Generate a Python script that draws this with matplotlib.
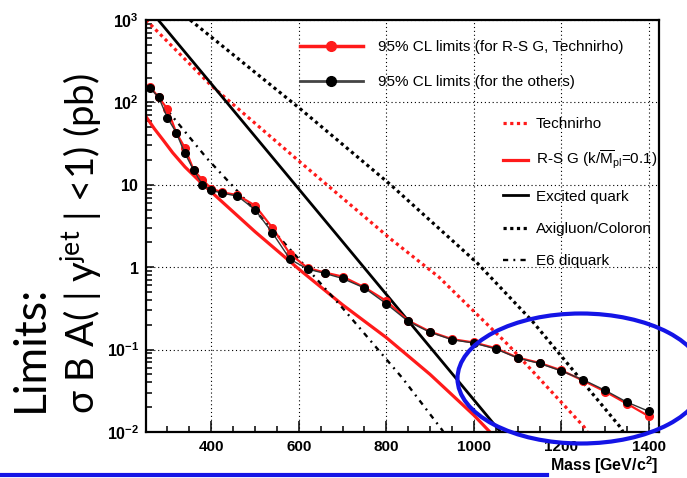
import matplotlib
matplotlib.use('Agg')
import matplotlib.pyplot as plt
import matplotlib.patches as mpatches
from matplotlib.lines import Line2D
from matplotlib.ticker import MultipleLocator, LogLocator, NullFormatter

# ── DATA ──────────────────────────────────────────────────
mass_limits = [260, 280, 300, 320, 340, 360, 380, 400, 425, 460, 500, 540, 580,
               620, 660, 700, 750, 800, 850, 900, 950, 1000, 1050, 1100, 1150,
               1200, 1250, 1300, 1350, 1400]
limit_rsg = [155, 115, 83, 43, 28, 15, 11.5, 9.0, 8.1, 7.5, 5.6, 3.0, 1.45,
             0.98, 0.86, 0.77, 0.57, 0.39, 0.225, 0.165, 0.134, 0.122, 0.104,
             0.080, 0.069, 0.056, 0.042, 0.031, 0.022, 0.0155]
limit_others = [150, 115, 65, 43, 24, 15, 10, 8.6, 7.9, 7.3, 5.0, 2.6, 1.25,
                0.95, 0.84, 0.73, 0.56, 0.36, 0.22, 0.162, 0.132, 0.120, 0.102,
                0.079, 0.068, 0.055, 0.043, 0.032, 0.023, 0.0178]

technirho_mass = [251, 400, 600, 810, 920, 1080, 1252, 1270]
technirho_xs = [1000, 160, 19.5, 2.2, 0.76, 0.112, 0.0115, 0.008]
rsg_mass = [252, 270, 290, 312, 340, 370, 400, 500, 600, 700, 800, 900, 1000, 1045]
rsg_xs = [66, 48, 35, 24.5, 16.5, 11.5, 8.2, 2.7, 0.95, 0.35, 0.14, 0.05, 0.016, 0.009]
qstar_mass = [279, 695, 1061, 1075]
qstar_xs = [1000, 2.2, 0.01, 0.008]
axi_mass = [352, 604, 810, 1008, 1134, 1336, 1350]
axi_xs = [1000, 83, 10, 1.12, 0.22, 0.0112, 0.008]
diq_mass = [300, 390, 457, 588, 700, 837, 928, 940]
diq_xs = [80, 21, 8.7, 1.48, 0.32, 0.045, 0.0105, 0.008]

x_ticks = [400, 600, 800, 1000, 1200, 1400]
y_ticks = [1e-2, 1e-1, 1, 10, 1e2, 1e3]
y_ticklabels = [r'$\mathbf{10^{-2}}$', r'$\mathbf{10^{-1}}$', r'$\mathbf{1}$',
                r'$\mathbf{10}$', r'$\mathbf{10^{2}}$', r'$\mathbf{10^{3}}$']

# ── STYLE ─────────────────────────────────────────────────
plt.rcParams['font.family'] = ['Liberation Sans', 'DejaVu Sans']
plt.rcParams['mathtext.fontset'] = 'custom'
plt.rcParams['mathtext.rm'] = 'Lato'
plt.rcParams['mathtext.it'] = 'Lato:italic'
plt.rcParams['mathtext.bf'] = 'Liberation Sans:bold'
plt.rcParams['mathtext.sf'] = 'Liberation Sans'

W, H = 687, 478
fig = plt.figure(figsize=(W / 100, H / 100), dpi=100, facecolor='white')
ax = fig.add_axes([146 / W, (H - 432) / H, 513 / W, 412 / H])

RED = '#ff1a1a'
dot = (0, (1, 1.1))
dashdot = (0, (2.2, 2.2, 0.8, 2.2))

ax.plot(technirho_mass, technirho_xs, color=RED, lw=2.3, ls=dot)
ax.plot(rsg_mass, rsg_xs, color=RED, lw=2.3)
ax.plot(qstar_mass, qstar_xs, color='black', lw=2.0)
ax.plot(axi_mass, axi_xs, color='black', lw=2.3, ls=dot)
ax.plot(diq_mass, diq_xs, color='black', lw=1.7, ls=dashdot)

ax.plot(mass_limits, limit_rsg, color=RED, lw=1.6, marker='o', ms=5.5,
        mfc=RED, mec=RED)
ax.plot(mass_limits, limit_others, color='#333333', lw=1.0, marker='o', ms=5.5,
        mfc='black', mec='black')

ax.set_yscale('log')
ax.set_xlim(251, 1423)
ax.set_ylim(1e-2, 1e3)
ax.set_xticks(x_ticks)
ax.set_xticklabels([str(v) for v in x_ticks], fontsize=11, fontweight='bold')
ax.xaxis.set_minor_locator(MultipleLocator(50))
ax.set_yticks(y_ticks)
ax.set_yticklabels(y_ticklabels, fontsize=11.5)
ax.yaxis.set_minor_locator(LogLocator(base=10, subs=range(2, 10)))
ax.yaxis.set_minor_formatter(NullFormatter())
ax.tick_params(which='both', direction='in', top=False, right=False, width=1.1)
ax.tick_params(axis='x', which='major', length=8, pad=6)
ax.tick_params(axis='y', which='major', length=6, pad=5)
ax.tick_params(which='minor', length=4)
ax.grid(True, which='major', color='black', lw=0.8, ls=(0, (1, 2.5)))
for s in ax.spines.values():
    s.set_linewidth(1.6)

# legends
h_lim = [Line2D([], [], color=RED, lw=2.5, marker='o', ms=7, mfc=RED, mec=RED),
         Line2D([], [], color='#444444', lw=2.0, marker='o', ms=7,
                mfc='black', mec='black')]
fig.legend(h_lim, ['95% CL limits (for R-S G, Technirho)',
                   '95% CL limits (for the others)'],
           loc='upper left', bbox_to_anchor=(300 / W, 1 - 40 / H),
           frameon=False, fontsize=11, borderpad=0, borderaxespad=0,
           handlelength=4.1, handletextpad=1.0, labelspacing=1.37,
           numpoints=1)

h_th = [Line2D([], [], color=RED, lw=2.3, ls=dot),
        Line2D([], [], color=RED, lw=2.3),
        Line2D([], [], color='black', lw=2.0),
        Line2D([], [], color='black', lw=2.3, ls=dot),
        Line2D([], [], color='black', lw=1.7, ls=dashdot)]
fig.legend(h_th, ['Technirho', r'R-S G (k/$\overline{\mathsf{M}}_{\mathsf{pl}}$=0.1)',
                  'Excited quark', 'Axigluon/Coloron', 'E6 diquark'],
           loc='upper left', bbox_to_anchor=(503 / W, 1 - 117 / H),
           frameon=False, fontsize=11, borderpad=0, borderaxespad=0,
           handlelength=1.63, handletextpad=0.52, labelspacing=1.2)

fig.text(658 / W, 1 - 471 / H, r'$\mathbf{Mass\ [GeV/c^{2}]}$', ha='right',
         va='baseline', fontsize=11.5)

# big slide label
fig.text(43 / W, 1 - 412 / H, 'Limits:', rotation=90, rotation_mode='anchor',
         ha='left', va='baseline', fontsize=32, family=['Lato', 'DejaVu Sans'])
fig.text(95 / W, 1 - 414 / H, r'σ B A( | y$^{\rm jet}$ | <1) (pb)', rotation=90,
         rotation_mode='anchor', ha='left', va='baseline', fontsize=27.5,
         family=['Lato', 'DejaVu Sans'])

# slide annotations
BLUE = '#1414e6'
fig.add_artist(mpatches.Ellipse((581 / W, 1 - 378.5 / H), 247 / W, 130 / H,
                                transform=fig.transFigure, fill=False,
                                edgecolor=BLUE, lw=3))
fig.add_artist(Line2D([0, 547 / W], [1 - 474.5 / H] * 2, color=BLUE, lw=3,
                      transform=fig.transFigure))

fig.savefig('out.png', dpi=100, facecolor='white')
